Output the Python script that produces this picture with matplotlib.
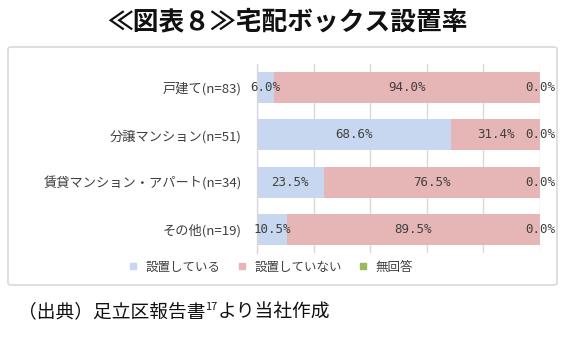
import matplotlib
matplotlib.use("Agg")
import matplotlib.pyplot as plt
from matplotlib.patches import FancyBboxPatch
from matplotlib.lines import Line2D
import numpy as np

plt.rcParams['font.family'] = ['Noto Sans CJK JP', 'DejaVu Sans']

# data
categories = ["戸建て(n=83)", "分譲マンション(n=51)", "賃貸マンション・アパート(n=34)", "その他(n=19)"]
installed = [6.0, 68.6, 23.5, 10.5]
not_installed = [94.0, 31.4, 76.5, 89.5]
no_answer = [0.0, 0.0, 0.0, 0.0]
series_names = ["設置している", "設置していない", "無回答"]
series_colors = ["#c6d7ef", "#e6b5b6", "#9bbb59"]
x_ticks = [0, 20, 40, 60, 80, 100]

fig = plt.figure(figsize=(5.73, 3.5), dpi=100)
W, H = 573, 350

# chart frame
frame = FancyBboxPatch((8 / W, 1 - 285 / H), (557 - 8) / W, (285 - 47) / H,
                       boxstyle="round,pad=0,rounding_size=0.006",
                       transform=fig.transFigure, facecolor="white",
                       edgecolor="#d9d9d9", linewidth=1.2, zorder=-1)
fig.patches.append(frame)

fig.text(287 / W, 1 - 22 / H, "≪図表８≫宅配ボックス設置率", ha="center", va="center",
         fontsize=18.5, fontweight="bold", color="#111111")

ax = fig.add_axes([257 / W, 1 - 253 / H, (540 - 257) / W, (253 - 64) / H])
ax.set_zorder(2)
ax.set_facecolor("none")

y = np.arange(len(categories))
left = np.zeros(len(categories))
for vals, name, col in zip([installed, not_installed, no_answer], series_names, series_colors):
    vals = np.array(vals)
    ax.barh(y, vals, left=left, height=0.66, color=col, label=name, zorder=2)
    for yi, l, v in zip(y, left, vals):
        ax.text(l + v / 2, yi, f"{v:.1f}%", ha="center", va="center",
                fontsize=9, color="#404040", zorder=3,
                family=["DejaVu Sans Mono", "Noto Sans CJK JP"])
    left = left + vals

ax.set_xlim(0, 100)
ax.set_ylim(len(categories) - 0.5, -0.5)
ax.set_xticks(x_ticks)
ax.set_xticklabels([])
ax.tick_params(axis="x", length=0)
ax.grid(axis="x", color="#d9d9d9", linewidth=1, zorder=1)
ax.set_yticks(y)
ax.set_yticklabels(categories, fontsize=9.5, color="#404040")
ax.tick_params(axis="y", length=0, pad=11)
for s in ["top", "right", "bottom"]:
    ax.spines[s].set_visible(False)
ax.spines["left"].set_color("#d9d9d9")
ax.spines["left"].set_linewidth(1)

handles = [Line2D([], [], marker="s", linestyle="none", markersize=5,
                  markerfacecolor=c, markeredgecolor=c) for c in series_colors]
leg = fig.legend(handles, series_names, loc="center", bbox_to_anchor=(267 / W, 1 - 267 / H),
                 ncol=3, frameon=False, fontsize=9, handletextpad=0.0, columnspacing=0.7,
                 labelcolor="#404040")
leg.set_zorder(3)

# caption with superscript
fig.canvas.draw()
renderer = fig.canvas.get_renderer()
cy = 1 - 312 / H
t1 = fig.text(18 / W, cy, "（出典）足立区報告書", ha="left", va="center", fontsize=13.5, color="#111111")
x1 = t1.get_window_extent(renderer).x1 / W
t2 = fig.text(x1, cy + 0.014, "17", ha="left", va="center", fontsize=8, color="#111111")
x2 = t2.get_window_extent(renderer).x1 / W
fig.text(x2, cy, "より当社作成", ha="left", va="center", fontsize=13.5, color="#111111")

fig.savefig("out.png", dpi=100)
